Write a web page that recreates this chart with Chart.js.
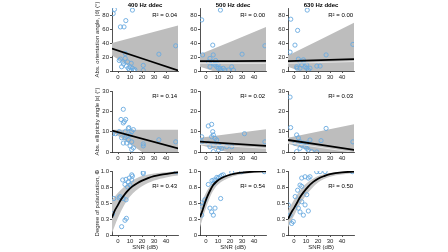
<!DOCTYPE html>
<html lang="en">
<head>
<meta charset="UTF-8">
<title>Polarization vs SNR</title>
<script src="https://cdn.jsdelivr.net/npm/chart.js"></script>
<style>
  body { margin: 0; background: #fff; width: 448px; height: 252px; position: relative; overflow: hidden; }
  canvas { position: absolute; }
</style>
</head>
<body>
<script>
// tick labels
const xTicks = [0, 10, 20, 30, 40];
const orientTicks = [0, 20, 40, 60, 80];
const ellipTicks = [0, 10, 20, 30];
const dopTicks = [0, 0.25, 0.5, 0.75, 1];
const freqs = ['400 Hz ddec', '500 Hz ddec', '630 Hz ddec'];
const r2Orient = ['0.04', '0.00', '0.00'];
const r2Ellip = ['0.14', '0.02', '0.03'];
const r2Dop = ['0.43', '0.54', '0.50'];

// orientation angle |θ| vs SNR
const orient400 = [[-3,88],[-4,82],[12,87],[6.5,72],[2,63],[5,63],[48,36],[34,24],[2,17],[4,13],[6,18],[4.5,10],[7,7],[8,13],[8.5,4],[10,6],[11,11],[12,4],[9.5,1.5],[13,1],[21,8],[21,1],[1,15],[3,6],[11,0.5],[14,2],[6,25]];
const orient500 = [[-3.6,73],[5.6,37],[12,87],[-2.8,23],[30,24],[49,36],[6,23],[3.3,18],[4.7,13],[2,13],[6,11],[7.5,8.6],[3.3,6],[9,6],[10.3,3.8],[11.7,3.8],[12.2,1.4],[14.4,3.8],[15.8,1.4],[18.6,1.4],[21.4,6],[22.8,1.4],[8,15],[10,9]];
const orient630 = [[-2.7,74],[3,58],[0.8,37],[-3.3,27],[11,87],[3.6,17],[5,13],[7.8,13],[2.2,6],[5,4],[6.4,8.6],[9.2,6],[10.6,4],[13.3,4],[12,1.4],[2.5,4],[7.8,16],[10.6,8.6],[19,7],[21.7,7],[26.7,23],[49,38]];
const fitOrient400 = [[-5,32],[50,0.8]];
const fitOrient500 = [[-5,14],[50,14.5]];
const fitOrient630 = [[-5,14],[50,17]];
const hiOrient400 = [[-5,40],[50,65]];
const loOrient400 = [[-5,22],[50,-35]];
const hiOrient500 = [[-5,24],[50,63]];
const loOrient500 = [[-5,6],[50,-25]];
const hiOrient630 = [[-5,22],[50,69]];
const loOrient630 = [[-5,6],[50,-30]];
const lightOrient500 = [[-5,11],[50,11]];
const lightOrient630 = [[-5,11],[50,13.5]];

// ellipticity angle |ε| vs SNR
const ellip400 = [[4.4,21],[2.5,16],[5.3,15],[6.4,16],[4.4,14.3],[-4.5,9],[8.6,11.5],[12.8,11],[11.4,10],[10,8.5],[7.2,7.7],[5.8,7],[3,7],[8.6,6],[11.4,5],[4.4,4.4],[7.2,4.4],[10,3],[12.8,2],[11.4,1.2],[21,4],[21,3],[34,6],[48,5],[1,10],[-2,9],[6,10],[9,12]];
const ellip500 = [[1.9,12.8],[4.7,13.6],[5.6,10],[6.1,8.4],[4.7,7.5],[-3.6,7.5],[7.5,6.7],[8.9,5.9],[1.9,4.3],[3.3,2.6],[6.1,3.4],[10.3,3.8],[11.7,2.6],[13,1.8],[10.3,1],[6.1,0.2],[17.2,2.6],[21.4,2.6],[32,9],[49,5],[-3.6,5]];
const ellip630 = [[-3.3,27],[-2.8,12],[2.2,8.4],[3.6,7],[0.8,4.3],[5,5.1],[6.4,3.4],[7.8,4.3],[9.2,2.6],[5,1.8],[10.6,4.3],[2.2,0.2],[13.3,5.9],[11.9,1],[26.7,11.6],[22.5,5.6],[49,5],[10.6,1.8],[14.7,0.2],[18.9,0]];
const fitEllip400 = [[-5,10.5],[50,1.8]];
const fitEllip500 = [[-5,5.1],[50,3]];
const fitEllip630 = [[-5,5.9],[50,1]];
const hiEllip400 = [[-5,11],[50,11]];
const loEllip400 = [[-5,10],[50,-12]];
const hiEllip500 = [[-5,7],[50,11.2]];
const loEllip500 = [[-5,3.5],[50,-5]];
const hiEllip630 = [[-5,7],[50,13.6]];
const loEllip630 = [[-5,4],[50,-6]];
const lightEllip500 = [[-5,3.8],[50,1.8]];
const lightEllip630 = [[-5,4.6],[50,-0.2]];

// degree of polarization Φ vs SNR
const dop400 = [[-4.5,0.33],[-3.5,0.57],[1.7,0.6],[3,0.13],[5.8,0.23],[7,0.26],[4.4,0.57],[6.7,0.55],[3.9,0.86],[6.7,0.87],[5.8,0.79],[8.6,0.83],[9.4,0.89],[11.4,0.94],[11.4,0.86],[10,0.78],[21,0.96],[21,0.98],[48.5,0.99],[1,0.58],[8,0.75],[12,0.92]];
const dop500 = [[-3.6,0.5],[-3.6,0.45],[-3.6,0.31],[1.9,0.79],[3.3,0.42],[4.7,0.36],[6.1,0.31],[6.7,0.86],[8.3,0.86],[10.3,0.89],[11.7,0.91],[12.2,0.57],[14.4,0.94],[21.4,0.98],[29.7,0.99],[48.5,0.99],[6.1,0.81],[7.5,0.42],[5,0.85],[9,0.9],[13,0.93],[-1,0.55]];
const dop630 = [[-4.7,0.47],[-3.3,0.31],[-1.9,0.18],[-0.6,0.21],[5,0.78],[6.4,0.76],[3.6,0.42],[5,0.36],[7.8,0.31],[9.2,0.47],[10.6,0.63],[11.9,0.89],[13.3,0.91],[6.4,0.89],[9.2,0.91],[18.9,0.99],[21.7,0.99],[25.8,0.99],[6.4,0.52],[11.9,0.375],[48.5,0.99],[1,0.6],[3,0.7]];
const fitDop400 = [[-5,0.27],[-3,0.37],[0,0.47],[2,0.54],[5,0.62],[8,0.69],[12,0.76],[16,0.81],[20,0.85],[25,0.89],[30,0.92],[35,0.94],[42,0.96],[50,0.98]];
const fitDop500 = [[-5,0.28],[-3,0.38],[0,0.55],[3,0.68],[6,0.78],[9,0.84],[13,0.89],[18,0.93],[24,0.96],[30,0.975],[40,0.99],[50,0.995]];
const fitDop630 = [[-5,0.25],[-2,0.36],[0,0.42],[3,0.52],[5,0.59],[8,0.67],[12,0.76],[16,0.83],[20,0.88],[25,0.92],[30,0.95],[40,0.98],[50,0.99]];
const hiDop400 = [[-5,0.55],[0,0.66],[5,0.75],[10,0.83],[20,0.92],[30,0.96],[50,0.995]];
const loDop400 = [[-5,0.03],[0,0.27],[5,0.46],[10,0.6],[20,0.76],[30,0.85],[40,0.9],[50,0.93]];
const hiDop500 = [[-5,0.45],[0,0.66],[5,0.8],[10,0.88],[20,0.95],[30,0.98],[50,1]];
const loDop500 = [[-5,0.12],[0,0.42],[5,0.66],[10,0.79],[20,0.9],[30,0.95],[50,0.985]];
const hiDop630 = [[-5,0.38],[0,0.55],[5,0.7],[10,0.8],[20,0.92],[30,0.97],[50,1]];
const loDop630 = [[-5,0.12],[0,0.3],[5,0.48],[10,0.62],[20,0.82],[30,0.91],[50,0.97]];

const panels = [
  [
    { pts: orient400, fit: fitOrient400, hi: hiOrient400, lo: loOrient400, light: null, r2: r2Orient[0] },
    { pts: orient500, fit: fitOrient500, hi: hiOrient500, lo: loOrient500, light: lightOrient500, r2: r2Orient[1] },
    { pts: orient630, fit: fitOrient630, hi: hiOrient630, lo: loOrient630, light: lightOrient630, r2: r2Orient[2] }
  ],
  [
    { pts: ellip400, fit: fitEllip400, hi: hiEllip400, lo: loEllip400, light: null, r2: r2Ellip[0] },
    { pts: ellip500, fit: fitEllip500, hi: hiEllip500, lo: loEllip500, light: lightEllip500, r2: r2Ellip[1] },
    { pts: ellip630, fit: fitEllip630, hi: hiEllip630, lo: loEllip630, light: lightEllip630, r2: r2Ellip[2] }
  ],
  [
    { pts: dop400, fit: fitDop400, hi: hiDop400, lo: loDop400, light: null, r2: r2Dop[0] },
    { pts: dop500, fit: fitDop500, hi: hiDop500, lo: loDop500, light: null, r2: r2Dop[1] },
    { pts: dop630, fit: fitDop630, hi: hiDop630, lo: loDop630, light: null, r2: r2Dop[2] }
  ]
];

// layout
const colLeft = [112, 200, 288];
const plotW = 67;
const rows = [
  { top: 8, bottom: 71, max: 90, ticks: orientTicks, title: 'Abs. orientation angle, |θ| (°)', r2y: 7, curve: false },
  { top: 91, bottom: 152, max: 30, ticks: ellipTicks, title: 'Abs. ellipticity angle |ε| (°)', r2y: 5, curve: false },
  { top: 171, bottom: 235, max: 1, ticks: dopTicks, title: 'Degree of polarization, Φ', r2y: 15, curve: true }
];

const axisColor = '#262626';
const blue = '#6aaae0';
const FONT = 'Liberation Sans, Arial, sans-serif';
Chart.defaults.font.family = FONT;
Chart.defaults.font.size = 6;
Chart.defaults.color = axisColor;

const xy = arr => arr.map(p => ({ x: p[0], y: p[1] }));

function makePanel(r, c) {
  const rs = rows[r];
  const p = panels[r][c];
  const yW = c === 0 ? 18 : 14;
  const padTop = r === 0 ? 8 : 6;
  const xH = r === 2 ? 16 : 10;
  const padRight = 4;
  const w = yW + plotW + padRight;
  const h = padTop + (rs.bottom - rs.top) + xH;

  const cv = document.createElement('canvas');
  cv.width = w; cv.height = h;
  cv.style.left = (colLeft[c] - yW) + 'px';
  cv.style.top = (rs.top - padTop) + 'px';
  cv.style.width = w + 'px'; cv.style.height = h + 'px';
  document.body.appendChild(cv);

  const datasets = [
    { data: xy(p.hi), fill: '+1', backgroundColor: rs.curve ? '#c6c6c6' : '#bdbdbd', borderColor: 'rgba(0,0,0,0)', borderWidth: 0, pointRadius: 0, order: 5, cubicInterpolationMode: 'monotone' },
    { data: xy(p.lo), fill: false, borderColor: 'rgba(0,0,0,0)', borderWidth: 0, pointRadius: 0, order: 5, cubicInterpolationMode: 'monotone' },
    { data: xy(p.pts), showLine: false, pointRadius: 2.1, pointBorderWidth: 0.9, pointBackgroundColor: 'rgba(0,0,0,0)', pointBorderColor: blue, order: 3 },
    { data: xy(p.fit), fill: false, borderColor: '#000', borderWidth: 1.8, pointRadius: 0, order: 1, cubicInterpolationMode: 'monotone' }
  ];
  if (p.light) {
    datasets.push({ data: xy(p.light), fill: false, borderColor: '#e6e6e6', borderWidth: 1, pointRadius: 0, order: 2 });
  }

  const textPlugin = {
    id: 'labels' + r + c,
    afterDraw(chart) {
      const ctx = chart.ctx;
      const a = chart.chartArea;
      ctx.save();
      ctx.fillStyle = '#000';
      ctx.font = '6px ' + FONT;
      ctx.textAlign = 'right';
      ctx.textBaseline = 'middle';
      ctx.fillText('R² = ' + p.r2, a.right - 1, a.top + rs.r2y);
      if (r === 0) {
        ctx.font = 'bold 6px ' + FONT;
        ctx.textAlign = 'center';
        ctx.fillText(freqs[c], (a.left + a.right) / 2, a.top - 3);
      }
      ctx.restore();
    }
  };

  new Chart(cv, {
    type: 'line',
    data: { datasets },
    options: {
      responsive: false,
      animation: false,
      layout: { padding: { top: padTop, right: padRight, left: 0, bottom: 0 } },
      plugins: { legend: { display: false }, tooltip: { enabled: false } },
      scales: {
        x: {
          type: 'linear', min: -5, max: 50,
          afterBuildTicks: s => { s.ticks = xTicks.map(v => ({ value: v })); },
          afterFit: s => { s.height = xH; },
          ticks: { padding: 1, maxRotation: 0, color: axisColor },
          grid: { drawOnChartArea: false, tickLength: 2, color: axisColor, lineWidth: 0.8 },
          border: { color: axisColor, width: 0.8 },
          title: { display: r === 2, text: 'SNR (dB)', padding: 0, color: axisColor }
        },
        y: {
          type: 'linear', min: 0, max: rs.max,
          afterBuildTicks: s => { s.ticks = rs.ticks.map(v => ({ value: v })); },
          afterFit: s => { s.width = yW; },
          ticks: { padding: 1, color: axisColor },
          grid: { drawOnChartArea: false, tickLength: 2, color: axisColor, lineWidth: 0.8 },
          border: { color: axisColor, width: 0.8 },
          title: { display: c === 0, text: rs.title, padding: 0, color: axisColor }
        }
      }
    },
    plugins: [textPlugin]
  });
}

for (let r = 0; r < 3; r++) {
  for (let c = 0; c < 3; c++) makePanel(r, c);
}
</script>
</body>
</html>
